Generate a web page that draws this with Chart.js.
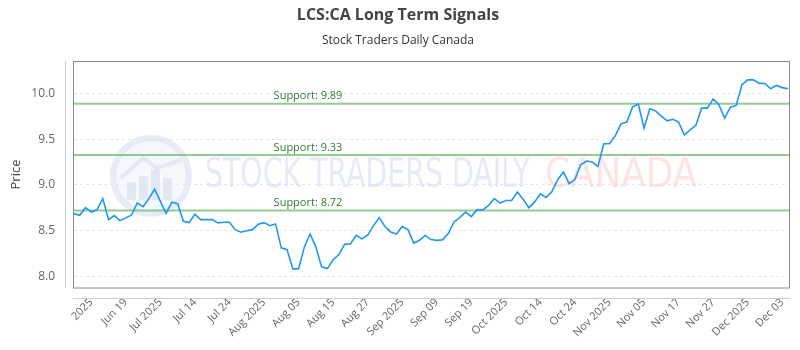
<!DOCTYPE html>
<html>
<head>
<meta charset="utf-8">
<script src="https://cdn.jsdelivr.net/npm/chart.js@4.4.1/dist/chart.umd.min.js"></script>
<style>
  body { margin: 0; background: #fff; }
</style>
</head>
<body>
<canvas id="canvas" width="800" height="350"></canvas>
<script>
// closing prices, one per trading day
const prices = [
    8.686, 8.668, 8.751, 8.704, 8.729, 8.850, 8.620, 8.664, 8.609, 8.639,
    8.671, 8.803, 8.762, 8.850, 8.953, 8.821, 8.690, 8.811, 8.795, 8.602,
    8.587, 8.679, 8.620, 8.620, 8.620, 8.584, 8.591, 8.591, 8.510, 8.482,
    8.499, 8.510, 8.570, 8.587, 8.554, 8.573, 8.310, 8.291, 8.080, 8.080,
    8.318, 8.463, 8.321, 8.102, 8.083, 8.179, 8.237, 8.350, 8.354, 8.447,
    8.409, 8.449, 8.551, 8.642, 8.545, 8.485, 8.463, 8.545, 8.510, 8.363,
    8.394, 8.447, 8.401, 8.392, 8.398, 8.467, 8.595, 8.642, 8.702, 8.653,
    8.729, 8.726, 8.775, 8.850, 8.801, 8.830, 8.830, 8.923, 8.844, 8.751,
    8.814, 8.904, 8.863, 8.928, 9.057, 9.142, 9.014, 9.062, 9.222, 9.263,
    9.252, 9.203, 9.452, 9.452, 9.539, 9.671, 9.690, 9.854, 9.889, 9.624,
    9.836, 9.813, 9.756, 9.704, 9.721, 9.690, 9.548, 9.605, 9.654, 9.843,
    9.843, 9.944, 9.880, 9.734, 9.854, 9.873, 10.101, 10.153, 10.153, 10.115,
    10.114, 10.055, 10.092, 10.068, 10.055
];

// labels shown on the x axis, one every 6 trading days starting at day 3
const tickLabels = [
    '2025', 'Jun 19', 'Jul 2025', 'Jul 14', 'Jul 24', 'Aug 2025', 'Aug 05',
    'Aug 15', 'Aug 27', 'Sep 2025', 'Sep 09', 'Sep 19', 'Oct 2025', 'Oct 14',
    'Oct 24', 'Nov 2025', 'Nov 05', 'Nov 17', 'Nov 27', 'Dec 2025', 'Dec 03'
];
const tickStart = 3;
const tickStep = 6;

const supportLevels = [9.89, 9.33, 8.72];

const days = prices.map((p, i) => i);

// watermark, support lines and the offset axis lines
const decorations = {
    id: 'decorations',
    beforeDatasetsDraw(chart) {
        const { ctx, chartArea: a, scales } = chart;
        ctx.save();

        // logo
        const cx = 151, cy = 176;
        ctx.fillStyle = 'rgba(234,239,248,0.5)';
        ctx.beginPath();
        ctx.arc(cx, cy, 36, 0, Math.PI * 2);
        ctx.fill();
        ctx.strokeStyle = 'rgba(212,221,238,0.55)';
        ctx.lineWidth = 6;
        ctx.beginPath();
        ctx.arc(cx, cy, 38, 0, Math.PI * 2);
        ctx.stroke();
        ctx.fillStyle = 'rgba(208,217,234,0.5)';
        [[-24, 6, 18], [-12, 0, 24], [0, -6, 30], [12, 2, 22]].forEach(b => {
            ctx.fillRect(cx + b[0], cy + b[1], 9, b[2]);
        });
        ctx.lineWidth = 4;
        ctx.beginPath();
        ctx.moveTo(cx - 30, cy + 2);
        ctx.lineTo(cx - 8, cy - 18);
        ctx.lineTo(cx + 6, cy - 8);
        ctx.lineTo(cx + 30, cy - 16);
        ctx.stroke();

        // watermark text
        ctx.textBaseline = 'middle';
        ctx.textAlign = 'left';
        ctx.font = '40px "DejaVu Sans Condensed"';
        const t1 = 'STOCK TRADERS DAILY';
        let w = ctx.measureText(t1).width;
        ctx.save();
        ctx.translate(205, 177);
        ctx.scale(325 / w, 1);
        ctx.fillStyle = 'rgba(214,222,238,0.6)';
        ctx.fillText(t1, 0, 0);
        ctx.restore();
        const t2 = 'CANADA';
        w = ctx.measureText(t2).width;
        ctx.save();
        ctx.translate(545, 177);
        ctx.scale(152 / w, 1);
        ctx.fillStyle = 'rgba(250,210,210,0.6)';
        ctx.fillText(t2, 0, 0);
        ctx.restore();

        // support lines
        supportLevels.forEach(v => {
            const y = scales.y.getPixelForValue(v);
            ctx.strokeStyle = 'rgba(120,190,120,0.8)';
            ctx.lineWidth = 2;
            ctx.beginPath();
            ctx.moveTo(a.left - 1, y);
            ctx.lineTo(a.right + 2, y);
            ctx.stroke();
            ctx.fillStyle = '#2e7d32';
            ctx.font = '11px "Open Sans"';
            ctx.textAlign = 'center';
            ctx.textBaseline = 'bottom';
            ctx.fillText('Support: ' + v.toFixed(2), 308, y - 2);
        });
        ctx.restore();
    },
    afterDraw(chart) {
        const { ctx, chartArea: a } = chart;
        ctx.save();
        ctx.strokeStyle = '#8a8a8a';
        ctx.lineWidth = 1;
        ctx.strokeRect(a.left - 0.5, a.top + 0.5, a.right - a.left + 2, a.bottom - a.top - 0.5);
        ctx.strokeStyle = '#cccccc';
        ctx.beginPath();
        ctx.moveTo(a.left - 8.5, a.top);
        ctx.lineTo(a.left - 8.5, a.bottom);
        ctx.moveTo(a.left - 1, a.bottom + 10.5);
        ctx.lineTo(a.right + 2, a.bottom + 10.5);
        ctx.stroke();
        ctx.restore();
    }
};

const ctx = document.getElementById('canvas').getContext('2d');

const chart = new Chart(ctx, {
    type: 'line',
    data: {
        labels: days,
        datasets: [{
            label: 'LCS:CA',
            data: prices,
            borderColor: '#2196f3',
            borderWidth: 1.6,
            pointRadius: 0,
            tension: 0,
            fill: false
        }]
    },
    options: {
        responsive: false,
        animation: false,
        layout: { padding: { left: 8, right: 12, top: 0, bottom: 0 } },
        plugins: {
            legend: { display: false },
            tooltip: { enabled: false },
            title: {
                display: true,
                text: 'LCS:CA Long Term Signals',
                color: '#444',
                font: { family: 'Open Sans', size: 16, weight: 'bold' },
                padding: { top: 6, bottom: 8.6 }
            },
            subtitle: {
                display: true,
                text: 'Stock Traders Daily Canada',
                color: '#333',
                font: { family: 'Open Sans', size: 12 },
                padding: { top: 0, bottom: 12.8 }
            }
        },
        scales: {
            x: {
                type: 'category',
                grid: { display: false, drawTicks: false },
                border: { display: false },
                afterFit: s => { s.height = 62; },
                ticks: {
                    autoSkip: false,
                    maxRotation: 45,
                    minRotation: 45,
                    padding: 8,
                    color: '#666',
                    font: { family: 'Open Sans', size: 11 },
                    callback: function (value, index) {
                        const k = index - tickStart;
                        if (k >= 0 && k % tickStep === 0) return tickLabels[k / tickStep];
                        return null;
                    }
                }
            },
            y: {
                min: 7.87,
                max: 10.36,
                afterFit: s => { s.width = 66; },
                grid: { color: '#e6e6e6', drawTicks: false },
                border: { display: false, dash: [3, 3] },
                title: {
                    display: true,
                    text: 'Price',
                    color: '#444',
                    font: { family: 'Open Sans', size: 13 },
                    padding: 0
                },
                ticks: {
                    stepSize: 0.5,
                    includeBounds: false,
                    padding: 19,
                    color: '#666',
                    font: { family: 'Open Sans', size: 12 },
                    callback: v => v.toFixed(1)
                }
            }
        }
    },
    plugins: [decorations]
});
</script>
</body>
</html>
